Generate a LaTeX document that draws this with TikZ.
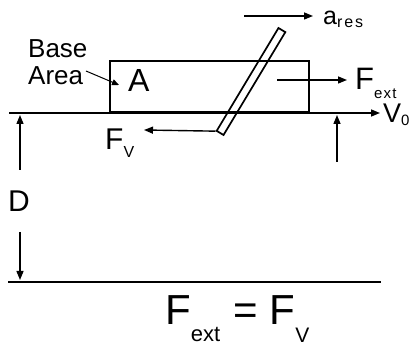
\documentclass[tikz,border=0pt]{standalone}
\usepackage{fontspec}
\setmainfont{Liberation Sans}
\usetikzlibrary{arrows.meta,positioning,calc}
\newcommand{\fsz}[1]{\fontsize{#1}{#1}\selectfont}
\newcommand{\lowsub}[3]{\raisebox{-#2pt}{\fsz{#1}#3}}

\begin{document}
\begin{tikzpicture}[
        x=1pt,y=-1pt,
        line/.style={line width=1.5pt,black},
        arr/.style={line width=1.4pt,-{Triangle[length=9pt,width=7pt]}},
        thinarr/.style={line width=1pt,-{Triangle[length=7pt,width=6pt]}},
        lbl/.style={inner sep=0pt,anchor=base west}
      ]
        \useasboundingbox (0,0) rectangle (418,347);
        % ground and far plate
        \coordinate (g0) at (9,113); \coordinate (g1) at (380,113);
        \coordinate (p0) at (8,282); \coordinate (p1) at (381,282);
        \draw[arr,line width=1.5pt] (g0)--(g1);
        \draw[line] (p0)--(p1);
        \node[lbl] (v0) at (383,123) {\fsz{27}V\lowsub{15}{3}{0}};
        % block and rod
        \node[draw,line width=1.5pt,minimum width=199pt,minimum height=51pt,inner sep=0pt,anchor=south west] (block) at (109,113) {};
        \node[draw,line width=1.7pt,minimum width=120pt,minimum height=8pt,inner sep=0pt,rotate=59] (rod) at (251,81.5) {};
        % labels
        \node[lbl] (base) at (28,58) {\fsz{26}Base};
        \node[lbl] (area) at (28,85) {\fsz{26}Area};
        \node[lbl] (A) at (128,92) {\fsz{32}A};
        \node[lbl] (D) at (8,212) {\fsz{30}D};
        \node[lbl] (ares) at (323,25) {\fsz{25}a\lowsub{16}{3}{\addfontfeature{LetterSpace=12}res}};
        \node[lbl] (fext) at (355,90) {\fsz{31}F\lowsub{15}{9}{\addfontfeature{LetterSpace=8}ext}};
        \node[lbl] (fv) at (105,150) {\fsz{30}F\lowsub{16}{8}{V}};
        \node[lbl] (eq) at (165,325) {\fsz{42}F\lowsub{22}{17}{ext}\hspace{13pt}=\hspace{12pt}F\lowsub{21}{18}{V}};
        % arrows
        \coordinate (areaTail) at (86,71); \coordinate (areaTip) at (119,85);
        \coordinate (aresTail) at (244,16); \coordinate (aresTip) at (313,16);
        \coordinate (fextTail) at (277,80); \coordinate (fextTip) at (347,80);
        \coordinate (fvTip) at (144,130);
        \coordinate (dUpTail) at (20,170); \coordinate (dUpTip) at (20,115);
        \coordinate (dDnTail) at (20,232); \coordinate (dDnTip) at (20,280);
        \coordinate (rUpTail) at (337,162); \coordinate (rUpTip) at (337,115);
        \draw[thinarr] (areaTail)--(areaTip);
        \draw[arr] (aresTail)--(aresTip);
        \draw[arr] (fextTail)--(fextTip);
        \draw[arr] (rod.north west)--(fvTip);
        \draw[arr] (dUpTail)--(dUpTip);
        \draw[arr] (dDnTail)--(dDnTip);
        \draw[arr] (rUpTail)--(rUpTip);
      \end{tikzpicture}
\end{document}
